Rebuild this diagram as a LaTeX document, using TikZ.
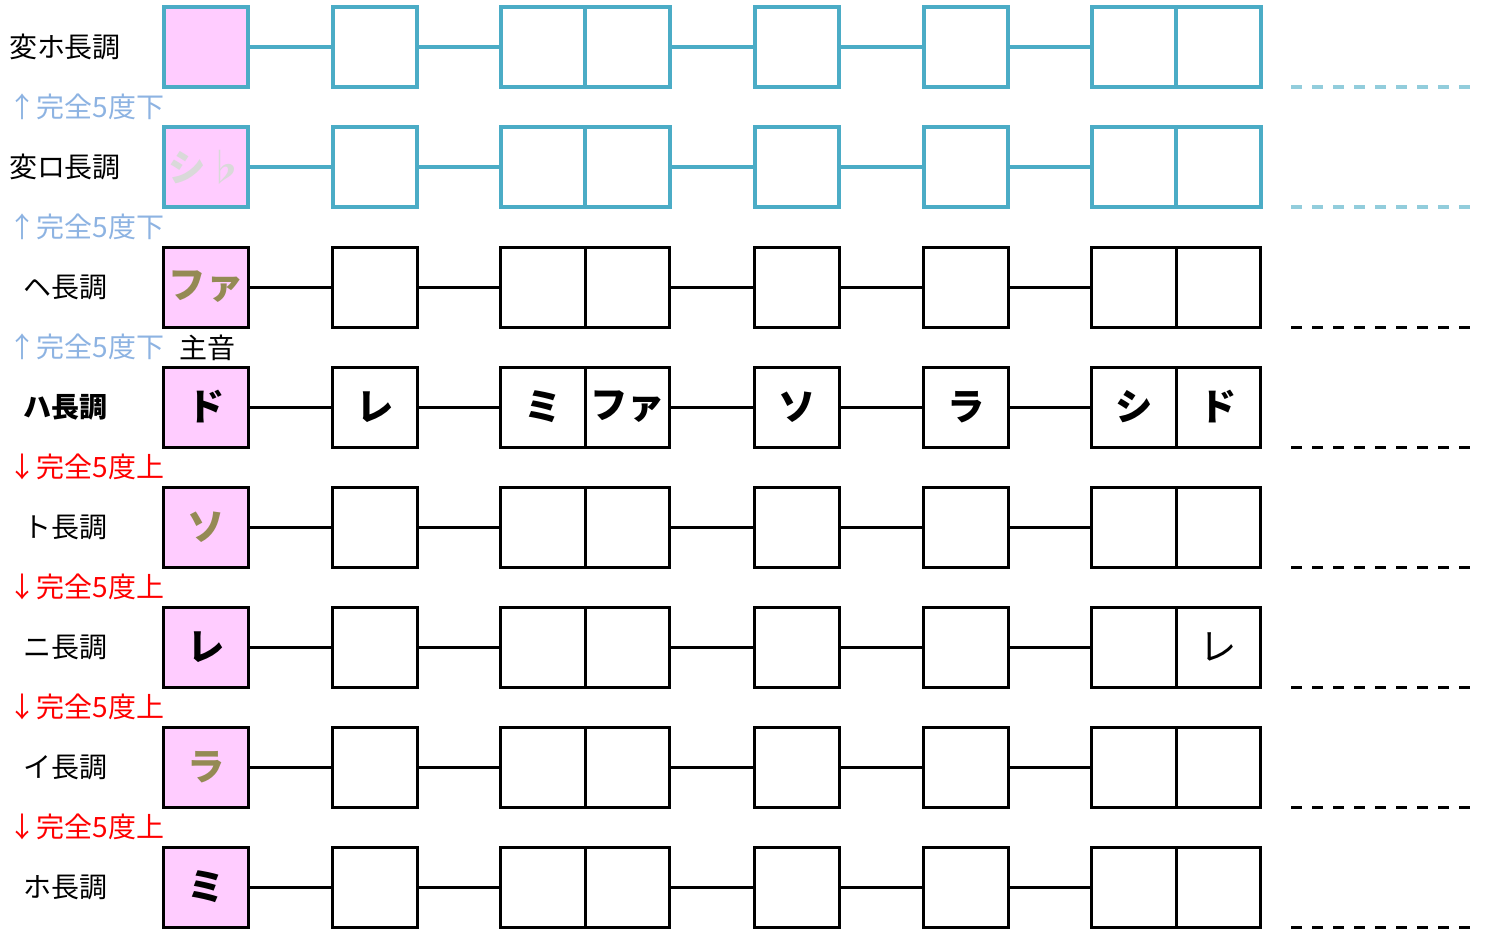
\documentclass[tikz,border=0pt]{standalone}
\usepackage{fontspec}
\setmainfont{Noto Sans CJK JP}
\usetikzlibrary{positioning}
\definecolor{keyteal}{HTML}{4BACC6}
\definecolor{keytealdash}{HTML}{92CDDC}
\definecolor{keypink}{HTML}{FFCCFF}
\definecolor{keyolive}{HTML}{948A54}
\definecolor{keygrey}{HTML}{D9D9D9}
\definecolor{keyup}{HTML}{8DB3E2}
\definecolor{keydown}{HTML}{FF0000}
\tikzset{
  x=0.75pt, y=-0.75pt,
  cell/.style  ={draw=black, line width=2.25pt, fill=white, minimum width=63.4pt,
                 minimum height=60pt, inner sep=0pt,
                 font=\fontsize{28}{30}\selectfont\bfseries},
  tonic/.style ={cell, fill=keypink},
  link/.style  ={draw=black, line width=2.25pt},
  more/.style  ={line width=2.25pt, dash pattern=on 8.25pt off 7.5pt},
  klabel/.style={font=\fontsize{21}{24}\selectfont},
  upnote/.style={anchor=west, font=\fontsize{21}{24}\selectfont, text=keyup},
  dnnote/.style={anchor=west, font=\fontsize{21}{24}\selectfont, text=keydown},
}
% #1 line width, #2 row, #3 y, #4 line colour, #5 dash colour, #6 key name, #7 tonic, #8 other notes
\newcommand{\keyrow}[8][2.25pt]{%
  \node[klabel] (lab#2) at (65,#3) {#6};
  \node[tonic, draw=#4, line width=#1] (k#2-1) at (206,#3) {#7};
  \foreach [count=\i from 2] \n in {#8} {
    \pgfmathsetmacro\cx{{206,375,543,627.5,797,966,1134,1218.5}[\i-1]}
    \node[cell, draw=#4, line width=#1] (k#2-\i) at (\cx,#3) {\n};
  }
  \draw[link, draw=#4, line width=#1] (k#2-1) -- (k#2-2) (k#2-2) -- (k#2-3)
    (k#2-4) -- (k#2-5) (k#2-5) -- (k#2-6) (k#2-6) -- (k#2-7);
  \coordinate (d#2a) at (1291,#3+40);
  \coordinate (d#2b) at (1473,#3+40);
  \draw[more, draw=#5, line width=#1] (d#2a) -- (d#2b);
}

\begin{document}
\begin{tikzpicture}
  \useasboundingbox (0,0) rectangle (1486,931);

  \keyrow[3pt]{1}{47}{keyteal}{keytealdash}{変ホ長調}{}{{},{},{},{},{},{},{}}
  \keyrow[3pt]{2}{167}{keyteal}{keytealdash}{変ロ長調}{\color{keygrey}シ♭}{{},{},{},{},{},{},{}}
  \keyrow{3}{287}{black}{black}{ヘ長調}{\color{keyolive}ファ}{{},{},{},{},{},{},{}}
  \keyrow{4}{407}{black}{black}{\bfseries ハ長調}{ド}{レ,ミ,ファ,ソ,ラ,シ,ド}
  \keyrow{5}{527}{black}{black}{ト長調}{\color{keyolive}ソ}{{},{},{},{},{},{},{}}
  \keyrow{6}{647}{black}{black}{ニ長調}{レ}{{},{},{},{},{},{},{\mdseries レ}}
  \keyrow{7}{767}{black}{black}{イ長調}{\color{keyolive}ラ}{{},{},{},{},{},{},{}}
  \keyrow{8}{887}{black}{black}{ホ長調}{ミ}{{},{},{},{},{},{},{}}

  \node[upnote] (up1) at (4,107) {↑完全5度下};
  \node[upnote] (up2) at (4,227) {↑完全5度下};
  \node[upnote] (up3) at (4,347) {↑完全5度下};
  \node[klabel] (tonicnote) at (207,348) {主音};
  \node[dnnote] (dn1) at (4,467) {↓完全5度上};
  \node[dnnote] (dn2) at (4,587) {↓完全5度上};
  \node[dnnote] (dn3) at (4,707) {↓完全5度上};
  \node[dnnote] (dn4) at (4,827) {↓完全5度上};
\end{tikzpicture}
\end{document}
